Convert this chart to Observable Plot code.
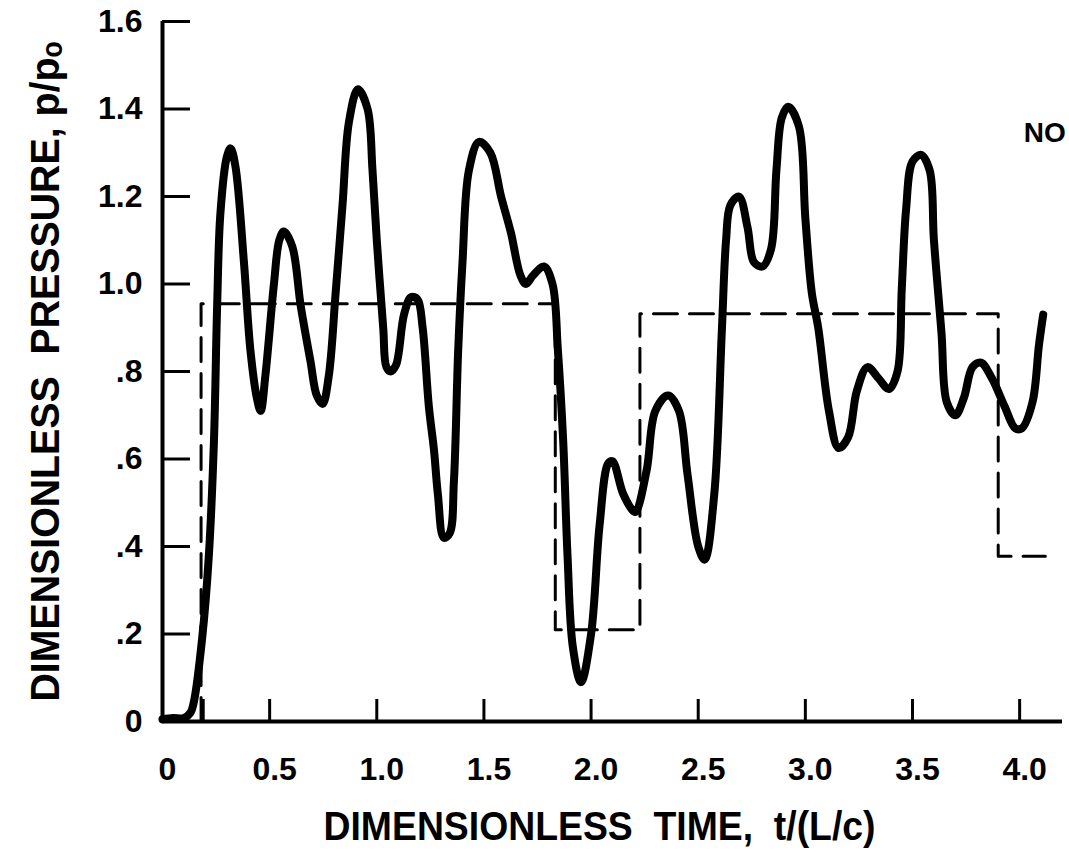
<!DOCTYPE html>
<html><head><meta charset="utf-8">
<script src="https://cdn.jsdelivr.net/npm/d3@7"></script>
<script src="https://cdn.jsdelivr.net/npm/@observablehq/plot@0.6"></script>
<style>
html,body{margin:0;padding:0;background:#fff;overflow:hidden;}
svg{overflow:hidden;}
</style></head><body><div id="chart"></div>
<script>
// Solid curve: measured dimensionless pressure vs dimensionless time
const timeT = [0.00,0.05,0.10,0.13,0.146,0.185,0.216,0.24,0.255,0.27,0.30,0.318,0.34,0.38,0.41,0.44,0.458,0.48,0.52,0.545,0.566,0.606,0.645,0.69,0.72,0.747,0.776,0.808,0.84,0.87,0.912,0.957,0.98,1.00,1.03,1.045,1.065,1.09,1.127,1.16,1.19,1.214,1.243,1.267,1.285,1.313,1.34,1.36,1.38,1.40,1.43,1.477,1.53,1.58,1.626,1.67,1.696,1.73,1.78,1.82,1.845,1.87,1.89,1.915,1.953,2.00,2.04,2.08,2.10,2.15,2.20,2.21,2.26,2.30,2.36,2.41,2.45,2.50,2.53,2.575,2.61,2.63,2.65,2.69,2.73,2.76,2.80,2.84,2.865,2.89,2.92,2.97,3.00,3.03,3.06,3.11,3.155,3.20,3.24,3.29,3.34,3.39,3.43,3.45,3.47,3.50,3.54,3.58,3.60,3.635,3.66,3.70,3.74,3.78,3.82,3.87,3.93,3.98,4.01,4.06,4.09,4.11];
const pressureP = [0.005,0.008,0.008,0.02,0.044,0.19,0.377,0.64,0.95,1.16,1.29,1.31,1.27,1.05,0.85,0.74,0.71,0.79,1.00,1.10,1.12,1.085,0.95,0.825,0.745,0.726,0.79,0.98,1.18,1.37,1.445,1.40,1.26,1.10,0.90,0.81,0.80,0.815,0.93,0.97,0.965,0.90,0.72,0.62,0.52,0.42,0.43,0.55,0.85,1.05,1.26,1.325,1.30,1.20,1.117,1.02,1.00,1.02,1.04,1.00,0.85,0.64,0.38,0.17,0.09,0.20,0.45,0.59,0.595,0.52,0.48,0.48,0.576,0.71,0.745,0.71,0.565,0.40,0.37,0.52,0.89,1.10,1.18,1.20,1.13,1.05,1.04,1.08,1.26,1.38,1.405,1.36,1.15,0.98,0.90,0.71,0.625,0.65,0.755,0.81,0.785,0.76,0.80,0.99,1.17,1.28,1.295,1.26,1.10,0.89,0.73,0.70,0.74,0.81,0.82,0.785,0.72,0.67,0.67,0.73,0.86,0.93];

// Dashed step curve
const stepT = [0.18,0.18,1.833,1.833,2.228,2.228,3.90,3.90,4.12];
const stepP = [0.0,0.955,0.955,0.21,0.21,0.932,0.932,0.378,0.378];

// Axes
const yTicks = [0,0.2,0.4,0.6,0.8,1.0,1.2,1.4,1.6];
const yTickLabels = ["0",".2",".4",".6",".8","1.0","1.2","1.4","1.6"];
const xTickMarks = [0.19,0.5,1.0,1.5,2.0,2.5,3.0,3.5,4.0];
const xLabelTicks = [0,0.5,1.0,1.5,2.0,2.5,3.0,3.5,4.0];
const xTickLabels = ["0","0.5","1.0","1.5","2.0","2.5","3.0","3.5","4.0"];
const xTitle = "DIMENSIONLESS  TIME,  t/(L/c)";
const yTitle = "DIMENSIONLESS  PRESSURE, p/pₒ";
const noteLabels = ["NO"];
const noteT = [4.019];
const noteP = [1.346];

const curve = timeT.map((t,i)=>({t, p: pressureP[i]}));
const step = stepT.map((t,i)=>({t, p: stepP[i]}));
const notes = noteLabels.map((s,i)=>({label:s, t: noteT[i], p: noteP[i]}));

const font = "'Liberation Sans', Arial, sans-serif";
const chart = Plot.plot({
  width: 1069, height: 852,
  marginLeft: 162, marginRight: 7, marginTop: 21, marginBottom: 131,
  style: {fontFamily: font, fontWeight: 700, background: "#fff", color: "#000", overflow: "hidden"},
  x: {domain: [0, 4.2]},
  y: {domain: [0, 1.6]},
  marks: [
    Plot.axisY(yTicks, {tickSize: -28, strokeWidth: 3, tickFormat: () => "", label: null}),
    Plot.axisY(yTicks, {tickSize: 0, tickPadding: 20, fontSize: 32, fontWeight: 700,
      tickFormat: d => yTickLabels[yTicks.indexOf(d)], label: null}),
    Plot.axisX(xTickMarks, {tickSize: -22, strokeWidth: 3, tickFormat: () => "", label: null}),
    Plot.axisX(xLabelTicks, {tickSize: 0, tickPadding: 36, fontSize: 32, fontWeight: 700, dx: 5,
      tickFormat: d => xTickLabels[xLabelTicks.indexOf(d)], label: null}),
    Plot.ruleX([0], {y1: 0, y2: 1.6, strokeWidth: 4}),
    Plot.ruleY([0], {x1: 0, x2: 4.2, strokeWidth: 4}),
    Plot.line(step, {x: "t", y: "p", strokeWidth: 3, strokeDasharray: "24,12"}),
    Plot.line(curve, {x: "t", y: "p", curve: "catmull-rom", strokeWidth: 8, strokeLinecap: "round", strokeLinejoin: "round"}),
    Plot.text([xTitle], {frameAnchor: "bottom", dx: -13, dy: 118, fontSize: 40, fontWeight: 700, textAnchor: "middle", text: d => d}),
    Plot.text([yTitle], {frameAnchor: "left", dx: -116, rotate: -90, fontSize: 40, fontWeight: 700, textAnchor: "middle", text: d => d}),
    Plot.text(notes, {x: "t", y: "p", text: "label", textAnchor: "start", fontSize: 28, fontWeight: 700})
  ]
});
// condense the hand-lettered titles to the reference widths
d3.select(chart).selectAll("text").each(function() {
  const s = this.textContent;
  if (s === xTitle) d3.select(this).attr("textLength", 552).attr("lengthAdjust", "spacingAndGlyphs");
  if (s === yTitle) d3.select(this).attr("textLength", 660).attr("lengthAdjust", "spacingAndGlyphs");
});
document.getElementById("chart").appendChild(chart);
</script></body></html>
